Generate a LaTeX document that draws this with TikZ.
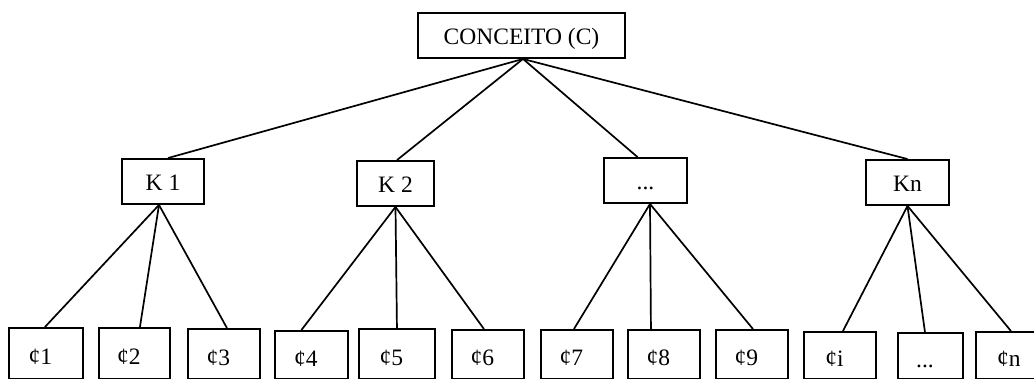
\documentclass[tikz,border=0pt]{standalone}
\usepackage{fontspec}
\setmainfont{Liberation Serif}
\begin{document}
\begin{tikzpicture}[x=1pt,y=-1pt,
  box/.style={draw=black, line width=1.9pt, inner sep=0pt, font=\fontsize{23.5}{27}\selectfont},
  topbox/.style={box, text height=19pt, text depth=0pt},
  leaf/.style={box, anchor=north west, text height=26pt, text depth=3pt, minimum height=#1},
  conn/.style={draw=black, line width=1.7pt}]
\useasboundingbox (0,0) rectangle (1034,379);
\clip (0,0) rectangle (1034,379);
\fill[white] (0,0) rectangle (1034,379);

\node[topbox, minimum width=207pt, minimum height=45pt] (C) at (521.5,35.5) {CONCEITO (C)};
\node[topbox, minimum width=82pt, minimum height=45pt] (K1) at (163,181.5) {K 1};
\node[topbox, minimum width=77pt, minimum height=45pt] (K2) at (395.5,183.5) {K 2};
\node[topbox, minimum width=83pt, minimum height=45pt] (K3) at (645.5,180.5) {...};
\node[topbox, minimum width=83pt, minimum height=45pt] (Kn) at (907.5,182.5) {Kn};

\node[leaf=51pt, minimum width=74pt] (c1) at (8,327) {¢1\hspace*{11pt}};
\node[leaf=51pt, minimum width=71pt] (c2) at (98,327) {¢2\hspace*{11pt}};
\node[leaf=50pt, minimum width=72pt] (c3) at (187,328) {¢3\hspace*{11pt}};
\node[leaf=48pt, minimum width=73pt] (c4) at (274,330) {¢4\hspace*{11pt}};
\node[leaf=50pt, minimum width=76pt] (c5) at (358,328) {¢5\hspace*{11pt}};
\node[leaf=49pt, minimum width=72pt] (c6) at (451,329) {¢6\hspace*{11pt}};
\node[leaf=49pt, minimum width=72pt] (c7) at (540,329) {¢7\hspace*{11pt}};
\node[leaf=49pt, minimum width=72pt] (c8) at (627,329) {¢8\hspace*{11pt}};
\node[leaf=49pt, minimum width=72pt] (c9) at (715,329) {¢9\hspace*{11pt}};
\node[leaf=47pt, minimum width=72pt] (ci) at (803,331) {¢i\hspace*{11pt}};
\node[leaf=46pt, minimum width=65pt] (cd) at (897,332) {...\hspace*{11pt}};
\node[leaf=47pt, minimum width=77pt] (cn) at (975,331) {¢n\hspace*{11pt}};

\draw[conn] ([xshift=1.5pt]C.south) -- ([xshift=5pt]K1.north);
\draw[conn] ([xshift=1.5pt]C.south) -- ([xshift=1.5pt]K2.north);
\draw[conn] ([xshift=1.5pt]C.south) -- ([xshift=-8pt]K3.north);
\draw[conn] ([xshift=1.5pt]C.south) -- (Kn.north);

\draw[conn] ([xshift=-4pt]K1.south) -- ([xshift=-1pt]c1.north);
\draw[conn] ([xshift=-4pt]K1.south) -- ([xshift=5.5pt]c2.north);
\draw[conn] ([xshift=-4pt]K1.south) -- ([xshift=3pt]c3.north);
\draw[conn] (K2.south) -- ([xshift=-10pt]c4.north);
\draw[conn] (K2.south) -- (c5.north);
\draw[conn] (K2.south) -- ([xshift=-4pt]c6.north);
\draw[conn] ([xshift=4.5pt]K3.south) -- ([xshift=-3pt]c7.north);
\draw[conn] ([xshift=4.5pt]K3.south) -- ([xshift=-13pt]c8.north);
\draw[conn] ([xshift=4.5pt]K3.south) -- ([xshift=1pt]c9.north);
\draw[conn] (Kn.south) -- ([xshift=3pt]ci.north);
\draw[conn] (Kn.south) -- ([xshift=-5.5pt]cd.north);
\draw[conn] (Kn.south) -- ([xshift=-3.5pt]cn.north);
\end{tikzpicture}
\end{document}
